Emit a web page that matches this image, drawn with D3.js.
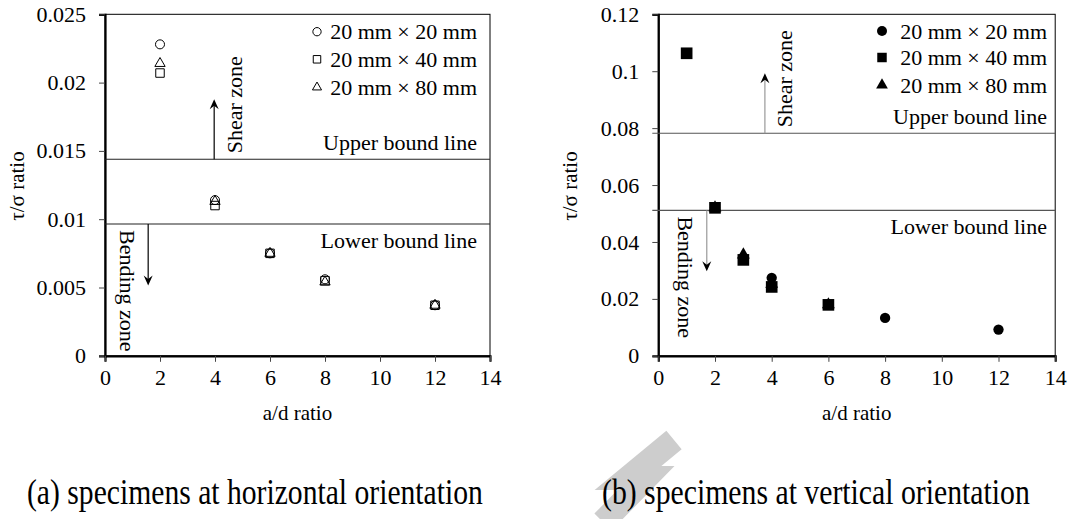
<!DOCTYPE html>
<html>
<head>
<meta charset="utf-8">
<script src="https://cdn.jsdelivr.net/npm/d3@7"></script>
<style>
  body { margin: 0; background: #fff; }
  svg, svg text { font-family: "Liberation Serif", "Tinos", "Nimbus Roman", "DejaVu Serif", serif; }
</style>
</head>
<body>
<svg id="chart" width="1068" height="519"></svg>
<script>
// x axis (shared)
const xTicks = [0, 2, 4, 6, 8, 10, 12, 14];
const seriesNames = ["20 mm \u00d7 20 mm", "20 mm \u00d7 40 mm", "20 mm \u00d7 80 mm"];

// (a) horizontal orientation
const hAd20 = [2, 4, 6, 8, 12];
const h20x20 = [0.0228, 0.0114, 0.0075, 0.0056, 0.0037];
const hAd40 = [2, 4, 6, 8, 12];
const h20x40 = [0.0207, 0.0110, 0.0075, 0.0055, 0.0037];
const hAd80 = [2, 4, 6, 8, 12];
const h20x80 = [0.0214, 0.0113, 0.0075, 0.0054, 0.0037];
const hYTicks = [0, 0.005, 0.01, 0.015, 0.02, 0.025];
const hBounds = [0.01439, 0.00965];      // upper, lower
const hShear = [3.97, 0.01878];          // x, arrow tip value
const hBend = [1.57, 0.00514];

// (b) vertical orientation
const vAd20 = [2, 3, 4, 6, 8, 12];
const v20x20 = [0.052, 0.034, 0.0274, 0.018, 0.0133, 0.0092];
const vAd40 = [1, 2, 3, 4, 6];
const v20x40 = [0.1063, 0.052, 0.0337, 0.0242, 0.0179];
const vAd80 = [2, 3, 4, 6];
const v20x80 = [0.052, 0.0355, 0.0252, 0.018];
const vYTicks = [0, 0.02, 0.04, 0.06, 0.08, 0.1, 0.12];
const vBounds = [0.0782, 0.0511];
const vShear = [3.76, 0.0993];
const vBend = [1.71, 0.0297];

const captions = ["(a) specimens at horizontal orientation", "(b) specimens at vertical orientation"];

const svg = d3.select("#chart");
const FONT = "'Liberation Serif', 'Tinos', 'Nimbus Roman', 'DejaVu Serif', serif";

function zip(xs, ys) { return xs.map((x, i) => ({ x: x, y: ys[i] })); }

function arrowHead(g, x, y, dir, color) {
  // dir: -1 points up, 1 points down
  g.append("path")
    .attr("d", `M${x},${y} L${x - 4.5},${y - dir * 10} L${x},${y - dir * 6.5} L${x + 4.5},${y - dir * 10} Z`)
    .attr("fill", color);
}

function drawPanel(cfg) {
  const g = svg.append("g").style("font-family", FONT);
  const x = d3.scaleLinear().domain([0, 14]).range([cfg.left, cfg.right]);
  const y = d3.scaleLinear().domain([0, cfg.yMax]).range([355.8, 14.3]);

  // frame (top / right)
  g.append("rect")
    .attr("x", cfg.left).attr("y", y(cfg.yMax))
    .attr("width", cfg.right - cfg.left).attr("height", y(0) - y(cfg.yMax))
    .attr("fill", "none").attr("stroke", "#000").attr("stroke-width", 1);

  const yAxis = g.append("g")
    .attr("transform", `translate(${cfg.left},0)`)
    .call(d3.axisLeft(y).tickValues(cfg.yTicks).tickSize(6).tickPadding(13)
      .tickFormat(d => String(+d.toFixed(3))));
  const xAxis = g.append("g")
    .attr("transform", `translate(0,${y(0)})`)
    .call(d3.axisBottom(x).tickValues(xTicks).tickSize(6).tickPadding(8));
  [xAxis, yAxis].forEach(a => {
    a.attr("font-family", null).attr("font-size", null);
    a.select(".domain").attr("stroke-width", 2.2).attr("stroke", "#000");
    a.selectAll(".tick line").attr("stroke", "#444");
    a.selectAll("text").style("font-family", FONT).attr("font-size", 22).attr("fill", "#000");
  });

  // axis titles
  g.append("text")
    .attr("x", x(7)).attr("y", 420)
    .attr("text-anchor", "middle").attr("font-size", 21)
    .text("a/d ratio");
  g.append("text")
    .attr("transform", `translate(${cfg.left - 88},${186}) rotate(-90)`)
    .attr("text-anchor", "middle").attr("dominant-baseline", "central").attr("font-size", 21)
    .text("\u03c4/\u03c3 ratio");

  // bound lines
  cfg.bounds.forEach(b => {
    g.append("line")
      .attr("x1", cfg.left - (cfg.lineOver || 0)).attr("x2", cfg.right)
      .attr("y1", y(b)).attr("y2", y(b))
      .attr("stroke", cfg.lineColor).attr("stroke-width", 1.2);
  });
  g.append("text")
    .attr("x", cfg.labelRight).attr("y", y(cfg.bounds[0]) - 9)
    .attr("text-anchor", "end").attr("font-size", 22)
    .text("Upper bound line");
  g.append("text")
    .attr("x", cfg.labelRight).attr("y", y(cfg.bounds[1]) + 24)
    .attr("text-anchor", "end").attr("font-size", 22)
    .text("Lower bound line");

  // shear zone arrow
  const sx = x(cfg.shear[0]);
  g.append("line")
    .attr("x1", sx).attr("x2", sx)
    .attr("y1", y(cfg.bounds[0])).attr("y2", y(cfg.shear[1]) + 4)
    .attr("stroke", cfg.arrowColor).attr("stroke-width", 1.2);
  arrowHead(g, sx, y(cfg.shear[1]), -1, "#000");
  g.append("text")
    .attr("transform", `translate(${sx + 20},${y(cfg.bounds[0]) - 6}) rotate(-90)`)
    .attr("dominant-baseline", "central").attr("font-size", 22)
    .text("Shear zone");

  // bending zone arrow
  const bx = x(cfg.bend[0]);
  g.append("line")
    .attr("x1", bx).attr("x2", bx)
    .attr("y1", y(cfg.bounds[1])).attr("y2", y(cfg.bend[1]) - 4)
    .attr("stroke", cfg.arrowColor).attr("stroke-width", 1.2);
  arrowHead(g, bx, y(cfg.bend[1]), 1, "#000");
  g.append("text")
    .attr("transform", `translate(${bx - 21},${y(cfg.bounds[1]) + 6}) rotate(90)`)
    .attr("dominant-baseline", "central").attr("font-size", 22)
    .text("Bending zone");

  // series
  const shapes = [d3.symbolCircle, d3.symbolSquare, d3.symbolTriangle];
  const sizes = cfg.filled ? [84, 136, 72] : [64, 72, 46];
  const legendSizes = cfg.filled ? [78, 90, 60] : [54, 56, 36];
  const draw = (data, i) => {
    g.append("g").selectAll("path")
      .data(data).join("path")
      .attr("transform", d => `translate(${x(d.x)},${y(d.y)})`)
      .attr("d", d3.symbol().type(shapes[i]).size(sizes[i]))
      .attr("fill", cfg.filled ? "#000" : "none")
      .attr("stroke", "#000").attr("stroke-width", cfg.filled ? 0 : 1);
  };
  cfg.series.forEach((s, i) => draw(s, i));

  // legend
  seriesNames.forEach((name, i) => {
    const ly = cfg.legendY[i];
    g.append("path")
      .attr("transform", `translate(${cfg.legendX},${ly})`)
      .attr("d", d3.symbol().type(shapes[i]).size(legendSizes[i]))
      .attr("fill", cfg.filled ? "#000" : "none")
      .attr("stroke", "#000").attr("stroke-width", cfg.filled ? 0 : 1);
    g.append("text")
      .attr("x", cfg.labelRight).attr("y", ly)
      .attr("text-anchor", "end").attr("dominant-baseline", "central").attr("font-size", 22)
      .text(name);
  });

  // caption: tall, horizontally squeezed glyphs as in the source
  const cap = g.append("text")
    .attr("x", 0).attr("y", 0)
    .attr("font-size", 35)
    .text(cfg.caption);
  const natural = cap.node().getComputedTextLength();
  cap.attr("transform", `translate(${cfg.captionX},504) scale(${cfg.captionW / natural},1)`);
}

// watermark (light grey zig-zag behind caption b)
svg.append("polyline")
  .attr("points", "603,522 646,478 628,478 674,440")
  .attr("fill", "none").attr("stroke", "#cdcdcd")
  .attr("stroke-width", 24).attr("stroke-linejoin", "miter");

drawPanel({
  left: 105, right: 490, yMax: 0.025, yTicks: hYTicks,
  bounds: hBounds, shear: hShear, bend: hBend,
  lineColor: "#222", arrowColor: "#000", filled: false,
  series: [zip(hAd20, h20x20), zip(hAd40, h20x40), zip(hAd80, h20x80)],
  legendX: 317, legendY: [31.7, 59.3, 87.3], labelRight: 477,
  caption: captions[0], captionX: 27, captionW: 456
});

drawPanel({
  left: 658.3, right: 1055.2, yMax: 0.12, yTicks: vYTicks,
  bounds: vBounds, shear: vShear, bend: vBend,
  lineColor: "#555", arrowColor: "#999", filled: true, lineOver: 6,
  series: [zip(vAd20, v20x20), zip(vAd40, v20x40), zip(vAd80, v20x80)],
  legendX: 882, legendY: [31, 57.5, 85], labelRight: 1047,
  caption: captions[1], captionX: 602, captionW: 428
});
</script>
</body>
</html>
